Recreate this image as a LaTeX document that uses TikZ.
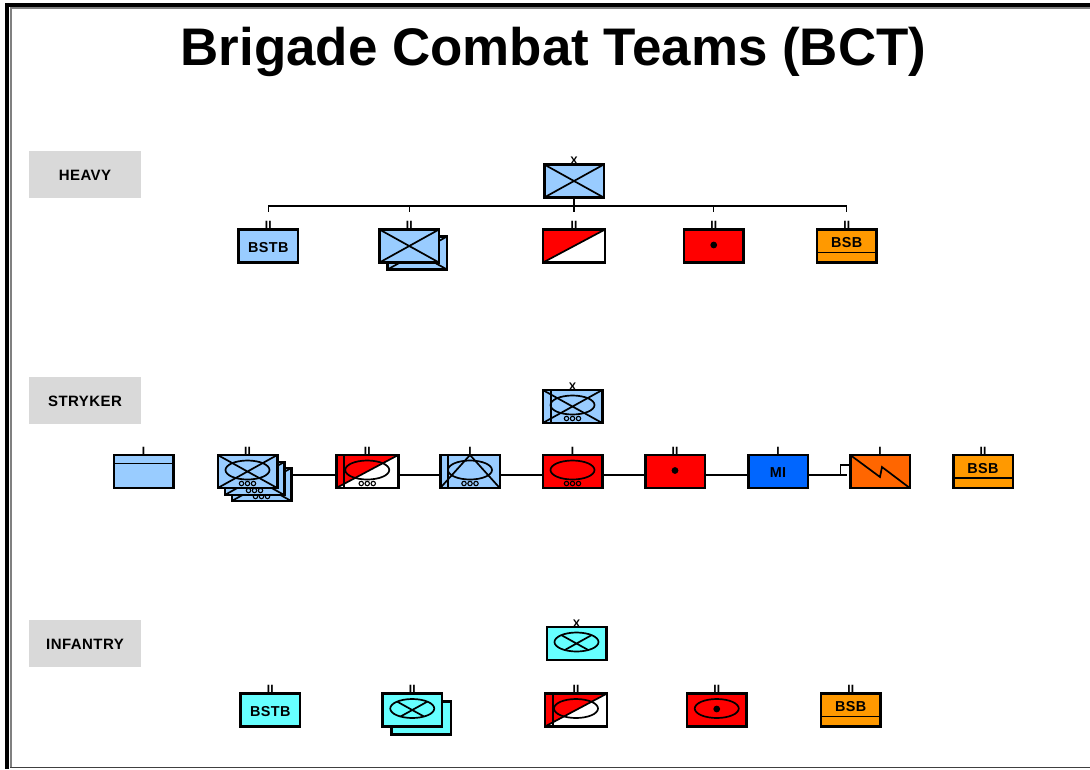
\documentclass[tikz,border=0pt]{standalone}
\usepackage{fontspec}
\setmainfont{Liberation Sans}
\newfontfamily\unitfont[LetterSpace=3]{Liberation Sans}
\usetikzlibrary{positioning, backgrounds}

\definecolor{unitblue}{HTML}{99CCFF}
\definecolor{unitcyan}{HTML}{66FFFF}
\definecolor{unitred}{HTML}{FF0000}
\definecolor{unitorange}{HTML}{FF9900}
\definecolor{signalorange}{HTML}{FF6600}
\definecolor{intelblue}{HTML}{0066FF}
\definecolor{tabgray}{HTML}{D9D9D9}

\tikzset{glyph/.style={draw=black, line width=1.7pt}}

% Symbols inside a unit box
\def\pb{path picture bounding box}
\newcommand{\symcross}{\draw[glyph] (\pb.north west) -- (\pb.south east) (\pb.south west) -- (\pb.north east);}
\newcommand{\symoval}{\draw[glyph] ([yshift=1.5pt]\pb.center) ellipse (22pt and 9.5pt);}
\newcommand{\symovalcross}{\begin{scope}
    \clip ([yshift=1.5pt]\pb.center) ellipse (22pt and 9.5pt);
    \symcross
  \end{scope}\symoval}
\newcommand{\symwheels}{\foreach \w in {-6,0,6}
  \draw[draw=black, line width=1.1pt] ([xshift=\w pt, yshift=4.5pt]\pb.south) circle (2.2pt);}
\newcommand{\symstripe}{\draw[glyph] ([xshift=8pt]\pb.north west) -- ([xshift=8pt]\pb.south west);}
\newcommand{\symhalf}{\fill[unitred] (\pb.north west) -- (\pb.north east) -- (\pb.south west) -- cycle;
  \draw[glyph] (\pb.south west) -- (\pb.north east);}
\newcommand{\symdot}{\fill[black] ([yshift=1pt]\pb.center) circle (3.4pt);}
\newcommand{\symsupply}{\draw[glyph] ([yshift=10pt]\pb.south west) -- ([yshift=10pt]\pb.south east);}
\newcommand{\symhead}{\draw[glyph] ([yshift=-8.5pt]\pb.north west) -- ([yshift=-8.5pt]\pb.north east);}
\newcommand{\symtriangle}{\draw[glyph] (\pb.south west) -- (\pb.north) -- (\pb.south east);}
\newcommand{\symbolt}{\draw[glyph] (\pb.north west) -- ([shift={(0pt,-5.5pt)}]\pb.center)
  -- ([shift={(2pt,4.5pt)}]\pb.center) -- (\pb.south east);}

\begin{document}
\begin{tikzpicture}[
    x=1pt, y=-1pt,
    unit/.style={
        rectangle,
        draw,
        line width=2.5pt,
        minimum width=59.5pt,
        minimum height=33pt,
        inner sep=0pt,
        outer sep=0pt,
        text height=12pt,
        text depth=0pt,
        font=\fontsize{14.4}{16}\selectfont\unitfont\bfseries
    },
    wide/.style={minimum width=62pt},
    glyphs/.style={path picture={#1}},
    echelon/.style={label={[inner sep=0pt, outer sep=0pt, label distance=0pt, font=\fontsize{12}{12}\selectfont\bfseries]90:#1}},
    brigade/.style={label={[inner sep=0pt, outer sep=0pt, label distance=0pt, font=\fontsize{11}{11}\selectfont\bfseries]90:X}},
    tab/.style={
        rectangle,
        fill=tabgray,
        minimum width=112pt,
        minimum height=47pt,
        text height=12.5pt,
        text depth=0pt,
        font=\fontsize{15}{18}\selectfont\unitfont\bfseries
    },
    line/.style={draw, line width=1.2pt}
]
    \useasboundingbox (0,0) rectangle (1090,769);

    % Frame
    \draw[line width=3.5pt] (1090,5) -- (7,5) -- (7,769);
    \draw[gray, line width=2pt] (1090,8) -- (10.5,8) -- (10.5,767.5);
    \draw[black!75, line width=1.5pt] (10,767.5) -- (1090,767.5);

    \node (title) at (553.5,51.5) {\fontsize{52.9}{60}\selectfont\bfseries Brigade Combat Teams (BCT)};

    \node [tab] (heavy) at (85,174.5) {HEAVY};
    \node [tab] (stryker) at (85,400.5) {STRYKER};
    \node [tab] (infantry) at (85,643.5) {INFANTRY};

    % Heavy
    \node [unit, brigade, fill=unitblue, glyphs={\symcross}] (hhq) at (574,181) {};
    \node [unit, wide, echelon=II, fill=white, glyphs={\symhalf}, below=32pt of hhq] (hcav) {};
    \node [unit, echelon=II, fill=unitblue, glyphs={\symcross}, left=104pt of hcav] (harm) {};
    \node [unit, echelon=II, fill=unitblue, left=81.5pt of harm] (hbstb) {BSTB};
    \node [unit, echelon=II, fill=unitred, glyphs={\symdot}, right=79pt of hcav] (hfa) {};
    \node [unit, echelon=II, fill=unitorange, glyphs={\symsupply}, right=73.5pt of hfa] (hbsb) {\raisebox{4.5pt}{BSB}};
    \begin{scope}[on background layer]
        \node [unit, fill=unitblue, glyphs={\symcross}] (harmb) at ([shift={(8,7)}]harm) {};
    \end{scope}

    % Heavy tree
    \coordinate (hbus) at (574,206);
    \path [line] (hhq.south) -- (hhq.south |- 0,211);
    \foreach \u in {hbstb,harm,hcav,hfa,hbsb} {
        \coordinate (\u tick) at ([yshift=18pt]\u.north);
        \path [line] (\u tick) -- (\u tick |- hbus) -- (hbus);
    }

    % Stryker
    \node [unit, brigade, fill=unitblue, glyphs={\symcross\symoval\symstripe\symwheels}] (shq) at (572.5,406.5) {};
    \node [unit, echelon=I, fill=unitred, glyphs={\symoval\symwheels}, below=32pt of shq] (sinf) {};
    \node [unit, echelon=I, fill=unitblue, glyphs={\symtriangle\symoval\symstripe\symwheels}, left=43pt of sinf] (stri) {};
    \node [unit, wide, echelon=II, fill=white, glyphs={\symhalf\symoval\symstripe\symwheels}, left=42pt of stri] (scav) {};
    \node [unit, echelon=II, fill=unitblue, glyphs={\symcross\symoval\symwheels}, left=59pt of scav] (srsta) {};
    \node [unit, echelon=I, fill=unitblue, glyphs={\symhead}, left=44.5pt of srsta] (shhc) {};
    \node [unit, echelon=II, fill=unitred, glyphs={\symdot}, right=43pt of sinf] (sfa) {};
    \node [unit, echelon=I, fill=intelblue, right=43.5pt of sfa] (smi) {MI};
    \node [unit, echelon=I, fill=signalorange, glyphs={\symbolt}, right=42.5pt of smi] (ssig) {};
    \node [unit, echelon=II, fill=unitorange, glyphs={\symsupply}, right=43.5pt of ssig] (sbsb) {\raisebox{4.5pt}{BSB}};
    \begin{scope}[on background layer]
        \node [unit, fill=unitblue, glyphs={\symcross\symoval\symwheels}] (srstac) at ([shift={(14,13)}]srsta) {};
        \node [unit, fill=unitblue, glyphs={\symcross\symoval\symwheels}] (srstab) at ([shift={(7,7)}]srsta) {};
    \end{scope}

    % Stryker links
    \coordinate (sbus) at (572,475);
    \foreach \a/\b in {srstac/scav, scav/stri, stri/sinf, sinf/sfa, sfa/smi}
        \path [line] (\a.east |- sbus) -- (\b.west |- sbus);
    \coordinate (sstub) at ([xshift=-3pt]ssig.west |- sbus);
    \coordinate (sstep) at ([xshift=-9.5pt]ssig.west |- sbus);
    \path [line] (smi.east |- sbus) -- (sstub);
    \path [line] (sstep) |- ([yshift=6.5pt]ssig.west);

    % Infantry
    \node [unit, brigade, fill=unitcyan, glyphs={\symovalcross}] (ihq) at (576.5,643.5) {};
    \node [unit, wide, echelon=II, fill=white, glyphs={\symhalf\symoval\symstripe}, below=33.5pt of ihq, xshift=-0.5pt] (icav) {};
    \node [unit, echelon=II, fill=unitcyan, glyphs={\symovalcross}, left=103pt of icav] (ilight) {};
    \node [unit, echelon=II, fill=unitcyan, left=82.5pt of ilight] (ibstb) {BSTB};
    \node [unit, echelon=II, fill=unitred, glyphs={\symoval\symdot}, right=80pt of icav] (ifa) {};
    \node [unit, echelon=II, fill=unitorange, glyphs={\symsupply}, right=74.5pt of ifa] (ibsb) {\raisebox{4.5pt}{BSB}};
    \begin{scope}[on background layer]
        \node [unit, fill=unitcyan] (ilightb) at ([shift={(9,8)}]ilight) {};
    \end{scope}
\end{tikzpicture}
\end{document}
